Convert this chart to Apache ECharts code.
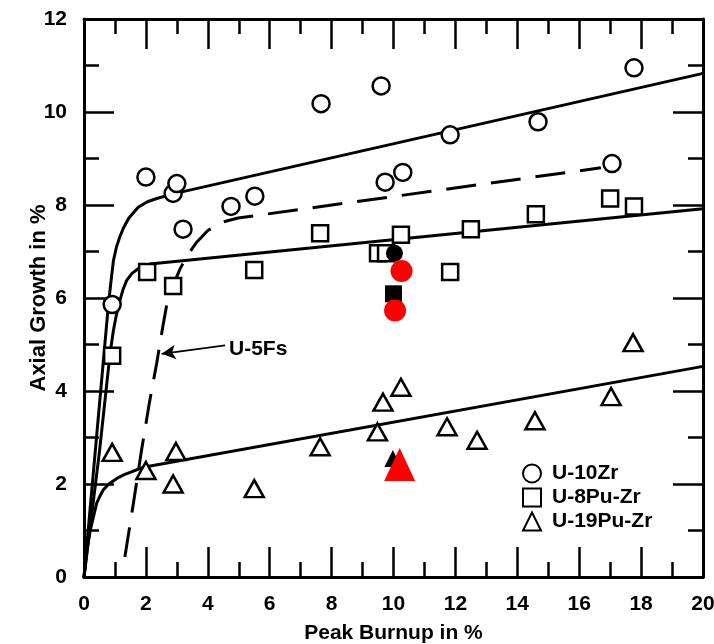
<!DOCTYPE html>
<html>
<head>
<meta charset="utf-8">
<script src="https://cdn.jsdelivr.net/npm/echarts@6/dist/echarts.min.js"></script>
<style>
html,body{margin:0;padding:0;background:#fff;}
#chart{width:714px;height:644px;}
</style>
</head>
<body>
<div id="chart"></div>
<script>
// ---- data ----
const xTicks = [0, 2, 4, 6, 8, 10, 12, 14, 16, 18, 20];
const yTicks = [0, 2, 4, 6, 8, 10, 12];

const u10zrX = [0.91, 2.0, 2.88, 3.0, 3.2, 4.75, 5.52, 7.66, 9.6, 9.73, 10.3, 11.83, 14.67, 17.06, 17.77];
const u10zrY = [5.86, 8.6, 8.25, 8.46, 7.48, 7.97, 8.19, 10.18, 10.56, 8.49, 8.7, 9.51, 9.79, 8.89, 10.95];

const u8puX = [0.91, 2.04, 2.88, 5.5, 7.63, 9.5, 9.76, 10.24, 11.83, 12.5, 14.6, 17.0, 17.77];
const u8puY = [4.76, 6.56, 6.26, 6.6, 7.39, 6.96, 6.96, 7.36, 6.56, 7.48, 7.8, 8.14, 7.97];

const u19puX = [0.91, 2.0, 2.88, 2.97, 5.5, 7.63, 9.48, 9.66, 10.24, 11.73, 12.7, 14.57, 17.03, 17.74];
const u19puY = [2.68, 2.29, 2.0, 2.7, 1.9, 2.8, 3.12, 3.76, 4.08, 3.23, 2.94, 3.36, 3.88, 5.04];

const blackCircleX = [10.03], blackCircleY = [6.96];
const blackSquareX = [10.0], blackSquareY = [6.09];
const blackTriX = [9.98], blackTriY = [2.55];
const redCircleX = [10.26, 10.05], redCircleY = [6.58, 5.73];
const redTriX = [10.2], redTriY = [2.42];

const fit10ZrX = [0, 0.79, 0.88, 0.95, 1.05, 1.15, 1.27, 1.45, 1.75, 2.05, 2.35, 2.88, 20];
const fit10ZrY = [0, 5.87, 6.4, 6.8, 7.1, 7.3, 7.5, 7.72, 7.95, 8.07, 8.14, 8.24, 10.83];

const fit8PuX = [0, 0.5, 0.84, 0.95, 1.05, 1.16, 1.27, 1.38, 1.55, 1.75, 2.13, 20];
const fit8PuY = [0, 2.7, 4.8, 5.3, 5.65, 5.95, 6.2, 6.38, 6.53, 6.63, 6.73, 7.92];

const fit19PuX = [0, 0.1, 0.2, 0.41, 0.5, 0.62, 0.8, 1.06, 1.3, 1.49, 1.92, 20];
const fit19PuY = [0, 0.6, 1.0, 1.59, 1.72, 1.87, 2.0, 2.12, 2.2, 2.25, 2.36, 4.53];

const fit5FsX = [1.32, 1.6, 1.86, 2.1, 2.35, 2.55, 2.68, 2.8, 2.94, 3.1, 3.32, 3.64, 4.0, 4.45, 4.98, 16.7];
const fit5FsY = [0.43, 1.6, 2.73, 3.7, 4.6, 5.4, 5.88, 6.15, 6.37, 6.62, 6.9, 7.2, 7.45, 7.63, 7.72, 8.8];

const legendNames = ['U-10Zr', 'U-8Pu-Zr', 'U-19Pu-Zr'];
const annotationText = 'U-5Fs';

// ---- build ----
const zip = (xs, ys) => xs.map((x, i) => [x, ys[i]]);
const FONT = 'Liberation Sans, Arial, sans-serif';

function valueAxis(extra) {
  return Object.assign({
    type: 'value',
    nameMoveOverlap: false,
    axisLine: { show: true, onZero: false, lineStyle: { color: '#000', width: 3 } },
    axisTick: { show: true, inside: true, length: 30, lineStyle: { color: '#000', width: 2.5 } },
    minorTick: { show: true, splitNumber: 2, length: 15, lineStyle: { color: '#000', width: 2.5 } },
    splitLine: { show: false },
    minorSplitLine: { show: false }
  }, extra);
}

const openStyle = { color: '#fff', borderColor: '#000', borderWidth: 2.5, opacity: 1 };
const fitLine = (data, extra) => Object.assign({
  type: 'line', data: data, symbol: 'none', smooth: false,
  lineStyle: { color: '#000', width: 3, join: 'round', cap: 'round' }, z: 2, silent: true
}, extra);

const chart = echarts.init(document.getElementById('chart'), null, { renderer: 'canvas' });
chart.setOption({
  animation: false,
  backgroundColor: '#fff',
  textStyle: { fontFamily: FONT },
  grid: { left: 84, right: 11, top: 19, bottom: 67, containLabel: false, outerBoundsMode: 'none' },
  legend: {
    data: legendNames,
    orient: 'vertical',
    left: 517, top: 458,
    itemGap: 3, itemWidth: 18, itemHeight: 18,
    textStyle: { fontFamily: FONT, fontWeight: 'bold', fontSize: 21, color: '#000', padding: [0, 0, 0, 6] }
  },
  xAxis: [
    valueAxis({
      min: xTicks[0], max: xTicks[xTicks.length - 1], interval: xTicks[1] - xTicks[0],
      position: 'bottom',
      name: 'Peak Burnup in %', nameLocation: 'middle', nameGap: 46,
      nameTextStyle: { fontFamily: FONT, fontWeight: 'bold', fontSize: 21, color: '#000' },
      axisLabel: { fontFamily: FONT, fontWeight: 'bold', fontSize: 21, color: '#000', margin: 17 }
    }),
    valueAxis({
      min: xTicks[0], max: xTicks[xTicks.length - 1], interval: xTicks[1] - xTicks[0],
      position: 'top', axisLabel: { show: false }
    })
  ],
  yAxis: [
    valueAxis({
      min: yTicks[0], max: yTicks[yTicks.length - 1], interval: yTicks[1] - yTicks[0],
      position: 'left',
      name: 'Axial Growth in %', nameLocation: 'middle', nameGap: 34, nameRotate: 90,
      nameTextStyle: { fontFamily: FONT, fontWeight: 'bold', fontSize: 22, color: '#000' },
      axisLabel: { fontFamily: FONT, fontWeight: 'bold', fontSize: 21, color: '#000', margin: 17 }
    }),
    valueAxis({
      min: yTicks[0], max: yTicks[yTicks.length - 1], interval: yTicks[1] - yTicks[0],
      position: 'right', axisLabel: { show: false }
    })
  ],
  series: [
    fitLine(zip(fit10ZrX, fit10ZrY)),
    fitLine(zip(fit8PuX, fit8PuY)),
    fitLine(zip(fit19PuX, fit19PuY)),
    fitLine(zip(fit5FsX, fit5FsY), {
      lineStyle: { color: '#000', width: 3, type: [30, 15] },
      markLine: {
        silent: true, symbol: ['none', 'arrow'], symbolSize: [11, 14],
        lineStyle: { color: '#000', width: 1.8, type: 'solid' },
        label: { show: false },
        data: [[{ coord: [4.56, 4.98] }, { coord: [2.51, 4.8] }]]
      }
    }),
    {
      type: 'scatter', data: [[4.62, 4.9]], symbolSize: 0, silent: true, z: 5,
      itemStyle: { opacity: 1 },
      label: { show: true, position: 'right', distance: 2, formatter: annotationText,
        fontFamily: FONT, fontWeight: 'bold', fontSize: 21, color: '#000' }
    },
    { name: legendNames[0], type: 'scatter', symbol: 'circle', symbolSize: 17,
      itemStyle: openStyle, data: zip(u10zrX, u10zrY), z: 4 },
    { name: legendNames[1], type: 'scatter', symbol: 'rect', symbolSize: 16,
      itemStyle: openStyle, data: zip(u8puX, u8puY), z: 4 },
    { name: legendNames[2], type: 'scatter', symbol: 'triangle', symbolSize: [19, 17],
      itemStyle: openStyle, data: zip(u19puX, u19puY), z: 4 },
    { type: 'scatter', symbol: 'circle', symbolSize: 17, itemStyle: { color: '#000', opacity: 1 },
      data: zip(blackCircleX, blackCircleY), z: 5 },
    { type: 'scatter', symbol: 'rect', symbolSize: 17, itemStyle: { color: '#000', opacity: 1 },
      data: zip(blackSquareX, blackSquareY), z: 5 },
    { type: 'scatter', symbol: 'triangle', symbolSize: 17, itemStyle: { color: '#000', opacity: 1 },
      data: zip(blackTriX, blackTriY), z: 5 },
    { type: 'scatter', symbol: 'circle', symbolSize: 22, itemStyle: { color: '#ff0000', opacity: 1 },
      data: zip(redCircleX, redCircleY), z: 6 },
    { type: 'scatter', symbol: 'triangle', symbolSize: [31, 33], itemStyle: { color: '#ff0000', opacity: 1 },
      data: zip(redTriX, redTriY), z: 6 }
  ]
});
</script>
</body>
</html>
